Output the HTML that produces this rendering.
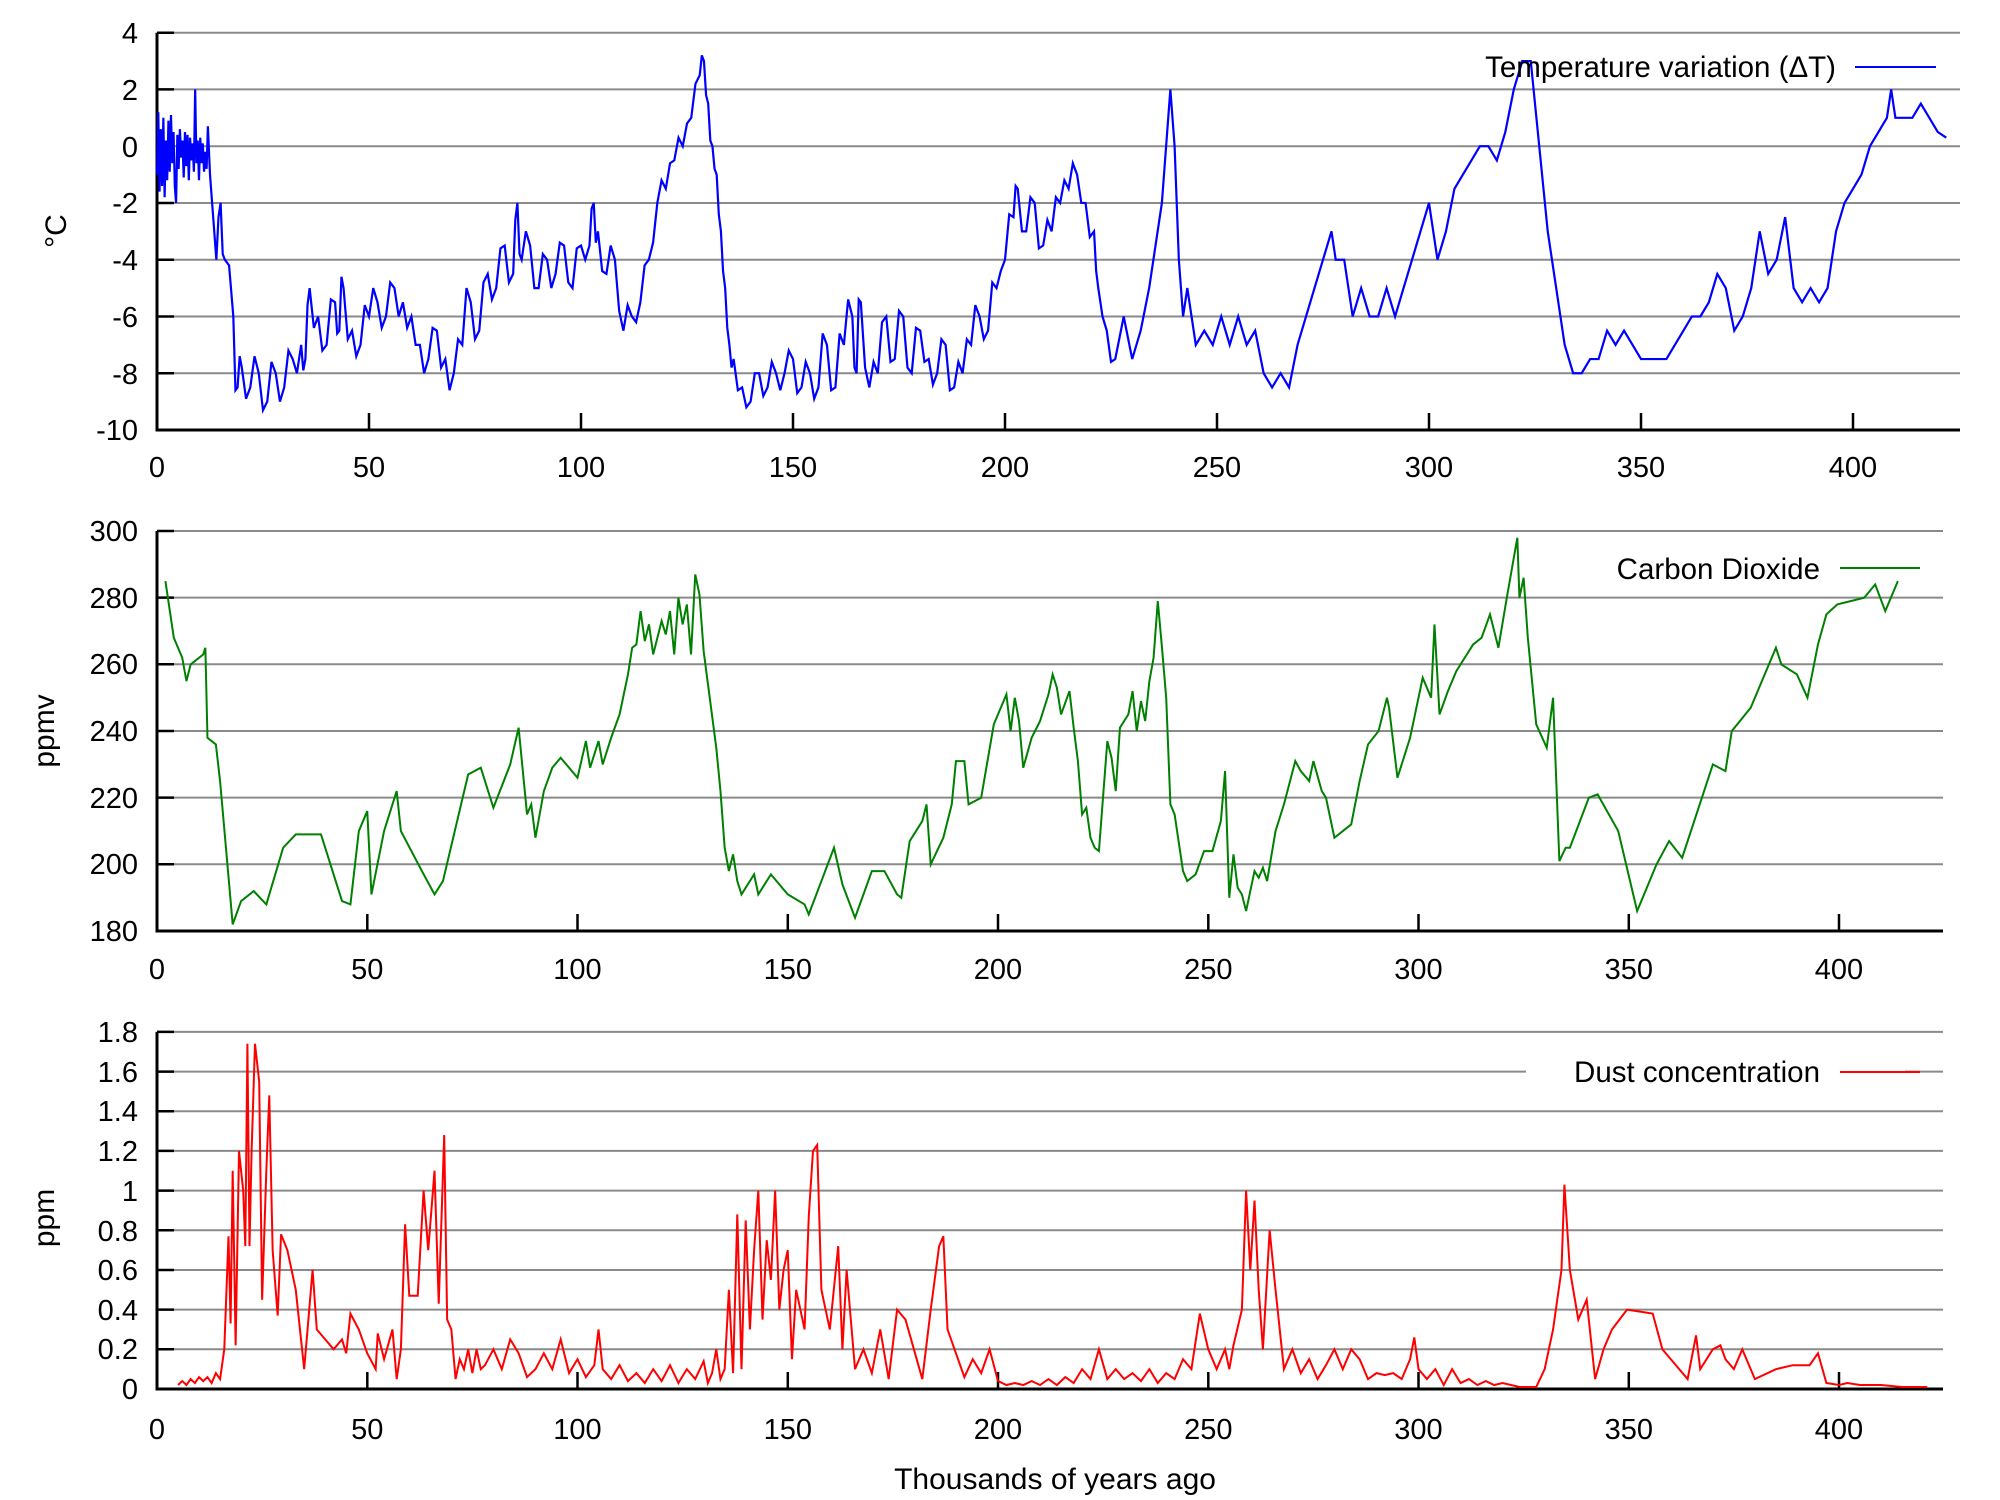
<!DOCTYPE html>
<html><head><meta charset="utf-8"><style>
html,body{margin:0;padding:0;background:#fff}
svg{display:block}
text{font-family:"Liberation Sans",Arial,sans-serif;fill:#000}
.g{stroke:#8a8a8a;stroke-width:2}
.ax{stroke:#000;stroke-width:3;fill:none}
.tk{stroke:#000;stroke-width:2.5}
.yl{font-size:29px;text-anchor:end}
.xl{font-size:29px;text-anchor:middle}
.lg{font-size:29.5px;text-anchor:end}
</style></head><body>
<svg width="2000" height="1500" viewBox="0 0 2000 1500" xmlns="http://www.w3.org/2000/svg">
<rect width="2000" height="1500" fill="#fff"/>
<!-- TOP -->
<g>
<line class="g" x1="157" y1="32.7" x2="1960" y2="32.7"/>
<line class="g" x1="157" y1="89.4" x2="1960" y2="89.4"/>
<line class="g" x1="157" y1="146.2" x2="1960" y2="146.2"/>
<line class="g" x1="157" y1="203" x2="1960" y2="203"/>
<line class="g" x1="157" y1="259.7" x2="1960" y2="259.7"/>
<line class="g" x1="157" y1="316.5" x2="1960" y2="316.5"/>
<line class="g" x1="157" y1="373.2" x2="1960" y2="373.2"/>
<g class="tk">
<line x1="157" y1="32.7" x2="174" y2="32.7"/><line x1="157" y1="89.4" x2="174" y2="89.4"/><line x1="157" y1="146.2" x2="174" y2="146.2"/><line x1="157" y1="203" x2="174" y2="203"/><line x1="157" y1="259.7" x2="174" y2="259.7"/><line x1="157" y1="316.5" x2="174" y2="316.5"/><line x1="157" y1="373.2" x2="174" y2="373.2"/>
<line x1="369" y1="430" x2="369" y2="413"/><line x1="581" y1="430" x2="581" y2="413"/><line x1="793" y1="430" x2="793" y2="413"/><line x1="1005" y1="430" x2="1005" y2="413"/><line x1="1217" y1="430" x2="1217" y2="413"/><line x1="1429" y1="430" x2="1429" y2="413"/><line x1="1641" y1="430" x2="1641" y2="413"/><line x1="1853" y1="430" x2="1853" y2="413"/>
</g>
<polyline class="ax" points="157,32.7 157,430 1960,430"/>
<text class="yl" x="138" y="43">4</text><text class="yl" x="138" y="100">2</text><text class="yl" x="138" y="157">0</text><text class="yl" x="138" y="213">-2</text><text class="yl" x="138" y="270">-4</text><text class="yl" x="138" y="327">-6</text><text class="yl" x="138" y="384">-8</text><text class="yl" x="138" y="440">-10</text>
<text class="xl" x="157" y="477">0</text><text class="xl" x="369" y="477">50</text><text class="xl" x="581" y="477">100</text><text class="xl" x="793" y="477">150</text><text class="xl" x="1005" y="477">200</text><text class="xl" x="1217" y="477">250</text><text class="xl" x="1429" y="477">300</text><text class="xl" x="1641" y="477">350</text><text class="xl" x="1853" y="477">400</text>
<text transform="translate(66,231) rotate(-90)" font-size="30" text-anchor="middle">°C</text>
<g transform="translate(157,146.2) scale(4.24,-28.38)">
<polyline fill="none" stroke="#0000ff" stroke-width="2.2" vector-effect="non-scaling-stroke" points="0,-1 0.3,1.2 0.6,-1.6 0.9,0.6 1.2,-1.4 1.5,1 1.8,-1.8 2.1,0.2 2.4,-1.2 2.7,0.9 3,-0.9 3.3,1.1 3.6,-0.6 3.9,0.5 4.2,-1.4 4.5,-2 4.8,0.4 5.1,-0.8 5.4,0.6 5.7,-0.4 6,0.2 6.3,-1.1 6.6,0.5 6.9,-0.7 7.2,0.4 7.5,-1.2 7.8,0.3 8.1,-0.5 8.4,0.1 8.7,-0.9 9,2 9.3,-0.6 9.6,0.2 9.9,-1.2 10.2,0.3 10.5,-0.6 10.8,0.1 11.1,-0.9 11.4,-0.2 11.7,-0.8 12,0.7 12.5,-1 13,-2 13.5,-3 14,-4 14.5,-2.5 15,-2 15.5,-3.8 16,-4 17,-4.2 18,-6 18.5,-8.6 19,-8.5 19.5,-7.4 20,-7.8 21,-8.9 22,-8.5 23,-7.4 24,-8 25,-9.3 26,-9 27,-7.6 28,-8 29,-9 30,-8.5 31,-7.2 32,-7.5 33,-8 34,-7 34.5,-7.9 35,-7.5 35.5,-5.6 36,-5 37,-6.4 38,-6 39,-7.2 40,-7 41,-5.4 42,-5.5 42.5,-6.6 43,-6.5 43.5,-4.6 44,-5 45,-6.8 46,-6.5 47,-7.4 48,-7 49,-5.6 50,-6 51,-5 52,-5.5 53,-6.4 54,-6 55,-4.8 56,-5 57,-6 58,-5.5 59,-6.4 60,-6 61,-7 62,-7 63,-8 64,-7.5 65,-6.4 66,-6.5 67,-7.8 68,-7.5 69,-8.6 70,-8 71,-6.8 72,-7 73,-5 74,-5.5 75,-6.8 76,-6.5 77,-4.8 78,-4.5 79,-5.4 80,-5 81,-3.6 82,-3.5 83,-4.8 84,-4.5 84.5,-2.6 85,-2 85.5,-3.8 86,-4 87,-3 88,-3.5 89,-5 90,-5 91,-3.8 92,-4 93,-5 94,-4.5 95,-3.4 96,-3.5 97,-4.8 98,-5 99,-3.6 100,-3.5 101,-4 102,-3.5 102.5,-2.2 103,-2 103.5,-3.4 104,-3 105,-4.4 106,-4.5 107,-3.5 108,-4 109,-5.8 110,-6.5 111,-5.6 112,-6 113,-6.2 114,-5.5 115,-4.2 116,-4 117,-3.4 118,-2 119,-1.2 120,-1.5 121,-0.6 122,-0.5 123,0.3 124,0 125,0.8 126,1 127,2.2 128,2.5 128.5,3.2 129,3 129.5,1.8 130,1.5 130.5,0.2 131,0 131.5,-0.8 132,-1 132.5,-2.4 133,-3 133.5,-4.4 134,-5 134.5,-6.4 135,-7 135.5,-7.8 136,-7.5 137,-8.6 138,-8.5 139,-9.2 140,-9 141,-8 142,-8 143,-8.8 144,-8.5 145,-7.6 146,-8 147,-8.6 148,-8 149,-7.2 150,-7.5 151,-8.7 152,-8.5 153,-7.6 154,-8 155,-8.9 156,-8.5 157,-6.6 158,-7 159,-8.6 160,-8.5 161,-6.6 162,-7 163,-5.4 164,-6 164.5,-7.8 165,-8 165.5,-5.4 166,-5.5 167,-7.8 168,-8.5 169,-7.6 170,-8 171,-6.2 172,-6 173,-7.6 174,-7.5 175,-5.8 176,-6 177,-7.8 178,-8 179,-6.4 180,-6.5 181,-7.6 182,-7.5 183,-8.4 184,-8 185,-6.8 186,-7 187,-8.6 188,-8.5 189,-7.6 190,-8 191,-6.8 192,-7 193,-5.6 194,-6 195,-6.8 196,-6.5 197,-4.8 198,-5 199,-4.4 200,-4 201,-2.4 202,-2.5 202.5,-1.4 203,-1.5 204,-3 205,-3 206,-1.8 207,-2 208,-3.6 209,-3.5 210,-2.6 211,-3 212,-1.8 213,-2 214,-1.2 215,-1.5 216,-0.6 217,-1 218,-2 219,-2 220,-3.2 221,-3 221.5,-4.4 222,-5 223,-6 224,-6.5 225,-7.6 226,-7.5 228,-6 230,-7.5 232,-6.5 234,-5 236,-3 237,-2 238,0 239,2 240,0 241,-4 242,-6 243,-5 245,-7 247,-6.5 249,-7 251,-6 253,-7 255,-6 257,-7 259,-6.5 261,-8 263,-8.5 265,-8 267,-8.5 269,-7 271,-6 273,-5 275,-4 277,-3 278,-4 280,-4 282,-6 284,-5 286,-6 288,-6 290,-5 292,-6 294,-5 296,-4 298,-3 300,-2 302,-4 304,-3 306,-1.5 308,-1 310,-0.5 312,0 314,0 316,-0.5 318,0.5 320,2 322,3 324,3 326,0 328,-3 330,-5 332,-7 334,-8 336,-8 338,-7.5 340,-7.5 342,-6.5 344,-7 346,-6.5 348,-7 350,-7.5 352,-7.5 354,-7.5 356,-7.5 358,-7 360,-6.5 362,-6 364,-6 366,-5.5 368,-4.5 370,-5 372,-6.5 374,-6 376,-5 378,-3 380,-4.5 382,-4 384,-2.5 386,-5 388,-5.5 390,-5 392,-5.5 394,-5 396,-3 398,-2 400,-1.5 402,-1 404,0 406,0.5 408,1 409,2 410,1 412,1 414,1 416,1.5 418,1 420,0.5 422,0.3"/>
</g>
<text class="lg" x="1836" y="77">Temperature variation (ΔT)</text>
<line x1="1855" y1="67" x2="1936" y2="67" stroke="#0000ff" stroke-width="2"/>
</g>

<!-- MIDDLE -->
<g>
<line class="g" x1="157" y1="531" x2="1943" y2="531"/>
<line class="g" x1="157" y1="597.6" x2="1943" y2="597.6"/>
<line class="g" x1="157" y1="664.3" x2="1943" y2="664.3"/>
<line class="g" x1="157" y1="731" x2="1943" y2="731"/>
<line class="g" x1="157" y1="797.6" x2="1943" y2="797.6"/>
<line class="g" x1="157" y1="864.3" x2="1943" y2="864.3"/>
<g class="tk">
<line x1="157" y1="531" x2="174" y2="531"/><line x1="157" y1="597.6" x2="174" y2="597.6"/><line x1="157" y1="664.3" x2="174" y2="664.3"/><line x1="157" y1="731" x2="174" y2="731"/><line x1="157" y1="797.6" x2="174" y2="797.6"/><line x1="157" y1="864.3" x2="174" y2="864.3"/>
<line x1="367.3" y1="931" x2="367.3" y2="914"/><line x1="577.5" y1="931" x2="577.5" y2="914"/><line x1="787.8" y1="931" x2="787.8" y2="914"/><line x1="998" y1="931" x2="998" y2="914"/><line x1="1208.3" y1="931" x2="1208.3" y2="914"/><line x1="1418.5" y1="931" x2="1418.5" y2="914"/><line x1="1628.8" y1="931" x2="1628.8" y2="914"/><line x1="1839" y1="931" x2="1839" y2="914"/>
</g>
<polyline class="ax" points="157,531 157,931 1943,931"/>
<text class="yl" x="138" y="541">300</text><text class="yl" x="138" y="608">280</text><text class="yl" x="138" y="674">260</text><text class="yl" x="138" y="741">240</text><text class="yl" x="138" y="808">220</text><text class="yl" x="138" y="874">200</text><text class="yl" x="138" y="941">180</text>
<text class="xl" x="157" y="979">0</text><text class="xl" x="367.3" y="979">50</text><text class="xl" x="577.5" y="979">100</text><text class="xl" x="787.8" y="979">150</text><text class="xl" x="998" y="979">200</text><text class="xl" x="1208.3" y="979">250</text><text class="xl" x="1418.5" y="979">300</text><text class="xl" x="1628.8" y="979">350</text><text class="xl" x="1839" y="979">400</text>
<text transform="translate(54,731) rotate(-90)" font-size="30" text-anchor="middle">ppmv</text>
<g transform="translate(157,1531) scale(4.205,-3.333)">
<polyline fill="none" stroke="#008000" stroke-width="2" vector-effect="non-scaling-stroke" points="2,285 4,268 6,262 7,255 8,260 11,263 11.5,265 12,238 14,236 15,225 18,182 20,189 23,192 26,188 30,205 33,209 39,209 44,189 46,188 48,210 50,216 51,191 54,210 57,222 58,210 63,198 66,191 68,195 74,227 77,229 80,217 84,230 86,241 88,215 89,218 90,208 92,222 94,229 96,232 100,226 102,237 103,229 105,237 106,230 108,238 110,245 112,257 113,265 114,266 115,276 116,267 117,272 118,263 120,273 121,269 122,276 123,263 124,280 125,272 126,278 127,263 128,287 129,281 130,264 133,235 134,222 135,205 136,198 137,203 138,195 139,191 142,197 143,191 146,197 150,191 154,188 155,185 158,195 161,205 163,194 166,184 170,198 173,198 176,191 177,190 179,207 182,213 183,218 184,200 187,208 189,218 190,231 192,231 193,218 196,220 199,242 201,248 202,251 203,240 204,250 205,243 206,229 208,238 210,243 212,251 213,257 214,253 215,245 217,252 218,241 219,231 220,215 221,217 222,208 223,205 224,204 226,237 227,232 228,222 229,241 231,245 232,252 233,240 234,249 235,243 236,255 237,262 238,279 239,265 240,250 241,218 242,215 244,198 245,195 247,197 249,204 251,204 253,213 254,228 255,190 256,203 257,193 258,191 259,186 261,198 262,196 263,199 264,195 266,210 268,218 270.7,231 272,228 274,225 275,231 277,222 278,220 280,208 282,210 284,212 286,225 288,236 290.5,240 292.5,250 293,247 295,226 298,238 301,256 303,250 303.8,272 305,245 307,252 309,258 311,262 313,266 315,268 317,275 319,265 321,280 323.5,298 324,280 325,286 326,268 328,242 330.5,235 332,250 333.5,201 335,205 336,205 340.5,220 342.6,221 347.5,210 352,186 356.6,200 359.6,207 362.7,202 370,230 373,228 374.5,240 379,247 385,265 386.3,260 390,257 392.5,250 395,266 397,275 399.6,278 406,280 408.6,284 411,276 414,285"/>
</g>
<text class="lg" x="1820" y="579">Carbon Dioxide</text>
<line x1="1840" y1="568" x2="1920" y2="568" stroke="#008000" stroke-width="2"/>
</g>

<!-- BOTTOM -->
<g>
<line class="g" x1="157" y1="1031.9" x2="1943" y2="1031.9"/>
<line class="g" x1="157" y1="1071.6" x2="1526" y2="1071.6"/>
<line class="g" x1="1905" y1="1071.6" x2="1943" y2="1071.6"/>
<line class="g" x1="157" y1="1111.2" x2="1943" y2="1111.2"/>
<line class="g" x1="157" y1="1150.9" x2="1943" y2="1150.9"/>
<line class="g" x1="157" y1="1190.6" x2="1943" y2="1190.6"/>
<line class="g" x1="157" y1="1230.3" x2="1943" y2="1230.3"/>
<line class="g" x1="157" y1="1270" x2="1943" y2="1270"/>
<line class="g" x1="157" y1="1309.6" x2="1943" y2="1309.6"/>
<line class="g" x1="157" y1="1349.3" x2="1943" y2="1349.3"/>
<g class="tk">
<line x1="157" y1="1031.9" x2="174" y2="1031.9"/><line x1="157" y1="1071.6" x2="174" y2="1071.6"/><line x1="157" y1="1111.2" x2="174" y2="1111.2"/><line x1="157" y1="1150.9" x2="174" y2="1150.9"/><line x1="157" y1="1190.6" x2="174" y2="1190.6"/><line x1="157" y1="1230.3" x2="174" y2="1230.3"/><line x1="157" y1="1270" x2="174" y2="1270"/><line x1="157" y1="1309.6" x2="174" y2="1309.6"/><line x1="157" y1="1349.3" x2="174" y2="1349.3"/>
<line x1="367.3" y1="1389" x2="367.3" y2="1372"/><line x1="577.5" y1="1389" x2="577.5" y2="1372"/><line x1="787.8" y1="1389" x2="787.8" y2="1372"/><line x1="998" y1="1389" x2="998" y2="1372"/><line x1="1208.3" y1="1389" x2="1208.3" y2="1372"/><line x1="1418.5" y1="1389" x2="1418.5" y2="1372"/><line x1="1628.8" y1="1389" x2="1628.8" y2="1372"/><line x1="1839" y1="1389" x2="1839" y2="1372"/>
</g>
<polyline class="ax" points="157,1031.9 157,1389 1943,1389"/>
<text class="yl" x="138" y="1042">1.8</text><text class="yl" x="138" y="1082">1.6</text><text class="yl" x="138" y="1121">1.4</text><text class="yl" x="138" y="1161">1.2</text><text class="yl" x="138" y="1201">1</text><text class="yl" x="138" y="1241">0.8</text><text class="yl" x="138" y="1280">0.6</text><text class="yl" x="138" y="1320">0.4</text><text class="yl" x="138" y="1359">0.2</text><text class="yl" x="138" y="1399">0</text>
<text class="xl" x="157" y="1439">0</text><text class="xl" x="367.3" y="1439">50</text><text class="xl" x="577.5" y="1439">100</text><text class="xl" x="787.8" y="1439">150</text><text class="xl" x="998" y="1439">200</text><text class="xl" x="1208.3" y="1439">250</text><text class="xl" x="1418.5" y="1439">300</text><text class="xl" x="1628.8" y="1439">350</text><text class="xl" x="1839" y="1439">400</text>
<text transform="translate(54,1218) rotate(-90)" font-size="30" text-anchor="middle">ppm</text>
<text x="1055" y="1489" font-size="30" text-anchor="middle">Thousands of years ago</text>
<g transform="translate(157,1389) scale(4.205,-198.4)">
<polyline fill="none" stroke="#ff0000" stroke-width="2" vector-effect="non-scaling-stroke" points="5,0.02 6,0.04 7,0.02 8,0.05 9,0.03 10,0.06 11,0.04 12,0.06 13,0.03 14,0.08 15,0.05 16,0.2 17,0.77 17.5,0.33 18,1.1 18.7,0.22 19.5,1.2 20.5,1.0 21,0.72 21.5,1.74 22,0.72 22.5,1.2 23.3,1.74 24.3,1.55 25,0.45 26,1.1 26.7,1.48 27.5,0.7 28.7,0.37 29.5,0.78 31,0.7 33,0.5 35,0.1 37,0.6 38,0.3 40,0.25 42,0.2 44,0.25 45,0.18 46,0.38 48,0.3 50,0.18 52,0.1 52.5,0.28 54,0.15 56,0.3 57,0.05 58,0.2 59,0.83 60,0.47 62,0.47 63.4,1.0 64.5,0.7 66,1.1 67,0.43 68.3,1.28 69,0.35 70,0.3 71,0.05 72,0.15 73,0.1 74,0.2 75,0.08 76,0.2 77,0.1 78,0.12 80,0.2 82,0.1 84,0.25 86,0.18 88,0.06 90,0.1 92,0.18 94,0.1 96,0.25 98,0.08 100,0.15 102,0.06 104,0.12 105,0.3 106,0.1 108,0.05 110,0.12 112,0.04 114,0.08 116,0.03 118,0.1 120,0.04 122,0.12 124,0.03 126,0.1 128,0.05 130,0.14 131,0.03 132,0.08 133,0.2 134,0.05 135,0.1 136,0.5 137,0.08 138,0.88 139,0.1 140,0.85 141,0.3 142,0.7 143,1.0 144,0.35 145,0.75 146,0.55 147,1.0 148,0.4 149,0.6 150,0.7 151,0.15 152,0.5 154,0.3 155,0.87 156,1.2 157,1.23 158,0.5 160,0.3 162,0.72 163,0.2 164,0.6 166,0.1 168,0.2 170,0.08 172,0.3 174,0.05 176,0.4 178,0.35 180,0.2 182,0.05 184,0.4 186,0.72 187,0.77 188,0.3 190,0.18 192,0.06 194,0.15 196,0.08 198,0.2 200,0.04 202,0.02 204,0.03 206,0.02 208,0.04 210,0.02 212,0.05 214,0.02 216,0.06 218,0.03 220,0.1 222,0.05 224,0.2 226,0.05 228,0.1 230,0.05 232,0.08 234,0.04 236,0.1 238,0.03 240,0.08 242,0.05 244,0.15 246,0.1 248,0.38 250,0.2 252,0.1 254,0.2 255,0.1 256,0.22 258,0.4 259,1.0 260,0.6 261,0.95 262,0.5 263,0.2 264.6,0.8 266,0.5 268,0.1 270,0.2 272,0.08 274,0.15 276,0.05 278,0.12 280,0.2 282,0.1 284,0.2 286,0.15 288,0.05 290,0.08 292,0.07 294,0.08 296,0.05 298,0.15 299,0.26 300,0.1 302,0.05 304,0.1 306,0.02 308,0.1 310,0.03 312,0.05 314,0.02 316,0.04 318,0.02 320,0.03 324,0.01 328,0.01 330,0.1 332,0.3 334,0.6 334.7,1.03 336,0.6 338,0.35 340,0.45 342,0.05 344,0.2 346,0.3 349.6,0.4 355.7,0.38 358,0.2 360,0.15 362,0.1 364,0.05 366,0.27 367,0.1 370,0.2 371.8,0.22 373,0.15 375,0.1 377,0.2 380,0.05 385,0.1 389,0.12 393,0.12 395,0.18 397,0.03 400,0.02 402,0.03 405,0.02 410,0.02 415,0.01 421,0.01"/>
</g>
<text class="lg" x="1820" y="1082">Dust concentration</text>
<line x1="1840" y1="1072" x2="1920" y2="1072" stroke="#ff0000" stroke-width="2"/>
</g>
</svg>
</body></html>
